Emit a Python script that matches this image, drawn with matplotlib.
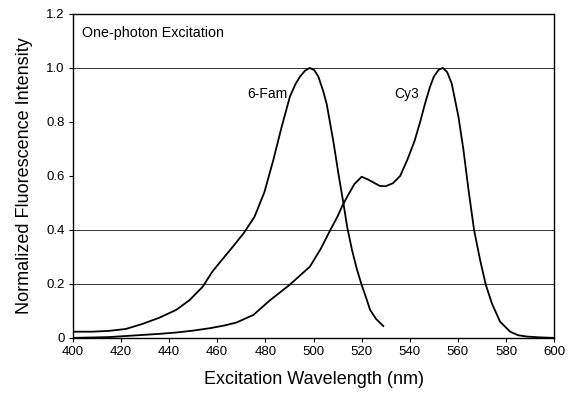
import matplotlib
matplotlib.use("Agg")
import matplotlib.pyplot as plt

plt.rcParams['font.family'] = ['Liberation Sans', 'DejaVu Sans']

# Excitation spectra (normalized)
fam_nm = [400, 408, 415, 422, 429, 436, 443, 448.5, 454, 458, 462.5, 466.5, 471,
          475.5, 479.6, 483.3, 486.8, 490.2, 492.5, 494.4, 496.5, 498.4, 500.3, 502,
          504, 505.5, 508.2, 510.5, 512.4, 514, 516, 518, 520, 522, 523.5, 526, 529]
fam_int = [0.023, 0.023, 0.026, 0.033, 0.052, 0.075, 0.104, 0.14, 0.19, 0.246, 0.295,
           0.338, 0.388, 0.449, 0.54, 0.659, 0.783, 0.894, 0.94, 0.968, 0.99, 1.0,
           0.992, 0.968, 0.915, 0.865, 0.73, 0.6, 0.5, 0.41, 0.325, 0.255, 0.196,
           0.145, 0.104, 0.07, 0.044]

cy3_nm = [400, 415, 429, 436, 443, 450, 457, 463, 468, 475, 482, 490, 498.5, 503,
          507, 510, 512, 514, 517, 520, 523, 527.5, 530, 533, 536, 539, 542, 544.3,
          546.4, 548.4, 550, 552, 553.7, 555.5, 557.4, 560.2, 562.3, 564.4, 566.7,
          569.2, 571.6, 574.1, 577.5, 581.7, 585, 588.6, 594, 600]
cy3_int = [0.0, 0.003, 0.011, 0.015, 0.02, 0.027, 0.036, 0.046, 0.057, 0.085, 0.14,
           0.196, 0.264, 0.33, 0.4, 0.45, 0.49, 0.523, 0.57, 0.597, 0.585, 0.563,
           0.562, 0.573, 0.6, 0.66, 0.73, 0.8, 0.87, 0.93, 0.968, 0.993, 1.0, 0.985,
           0.943, 0.82, 0.696, 0.548, 0.4, 0.289, 0.196, 0.128, 0.06, 0.023, 0.01,
           0.005, 0.002, 0.0]

x_ticks = [400, 420, 440, 460, 480, 500, 520, 540, 560, 580, 600]
y_ticks = [0, 0.2, 0.4, 0.6, 0.8, 1.0, 1.2]
y_tick_labels = ["0", "0.2", "0.4", "0.6", "0.8", "1.0", "1.2"]
grid_levels = [0.2, 0.4, 1.0]

fig = plt.figure(figsize=(5.69, 3.98), dpi=100)
ax = fig.add_axes([0.128, 0.151, 0.846, 0.814])

for g in grid_levels:
    ax.axhline(g, color='#333333', lw=0.7, zorder=1)

ax.plot(fam_nm, fam_int, color='black', lw=1.3, zorder=3, solid_joinstyle='round')
ax.plot(cy3_nm, cy3_int, color='black', lw=1.3, zorder=3, solid_joinstyle='round')

ax.set_xlim(400, 600)
ax.set_ylim(0, 1.2)
ax.set_xticks(x_ticks)
ax.set_yticks(y_ticks)
ax.set_yticklabels(y_tick_labels)
ax.tick_params(direction='out', length=3, width=0.8, labelsize=9.5, pad=3, colors='black')

for s in ax.spines.values():
    s.set_linewidth(1.0)
    s.set_color('black')

ax.set_xlabel("Excitation Wavelength (nm)", fontsize=13, labelpad=9)
ax.set_ylabel("Normalized Fluorescence Intensity", fontsize=13, labelpad=9)

ax.text(404, 1.13, "One-photon Excitation", fontsize=10.3, va='center', ha='left')
ax.text(480.7, 0.905, "6-Fam", fontsize=10, va='center', ha='center')
ax.text(538.7, 0.905, "Cy3", fontsize=10, va='center', ha='center')

fig.savefig("out.png", dpi=100)
